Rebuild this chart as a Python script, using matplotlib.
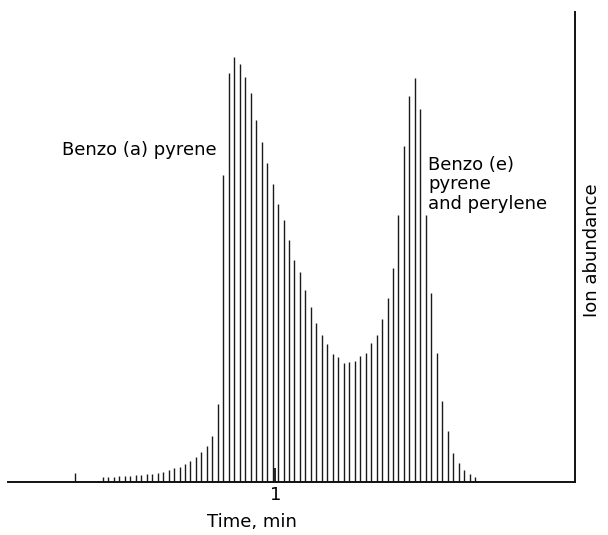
import matplotlib
matplotlib.use("Agg")
import matplotlib.pyplot as plt

# Scan times (min) and ion abundance (arbitrary units)
times = [0.27,
         0.37, 0.39, 0.41, 0.43, 0.45, 0.47, 0.49, 0.51, 0.53, 0.55,
         0.57, 0.59, 0.61, 0.63, 0.65, 0.67, 0.69, 0.71, 0.73, 0.75,
         0.77, 0.79, 0.81, 0.83, 0.85, 0.87, 0.89, 0.91, 0.93, 0.95,
         0.97, 0.99, 1.01, 1.03, 1.05, 1.07, 1.09, 1.11, 1.13, 1.15,
         1.17, 1.19, 1.21, 1.23, 1.25, 1.27, 1.29, 1.31, 1.33, 1.35,
         1.37, 1.39, 1.41, 1.43, 1.45, 1.47, 1.49, 1.51, 1.53, 1.55,
         1.57, 1.59, 1.61, 1.63, 1.65, 1.67, 1.69, 1.71, 1.73]
abundance = [9,
             5, 5, 5, 6, 6, 6, 7, 7, 8, 8,
             9, 10, 12, 14, 15, 18, 21, 25, 30, 36,
             46, 78, 307, 409, 425, 418, 405, 389, 362, 340,
             319, 298, 278, 262, 242, 222, 210, 192, 175, 159,
             147, 138, 128, 125, 119, 120, 121, 126, 129, 139,
             147, 163, 184, 214, 267, 336, 386, 404, 373, 267,
             189, 129, 81, 51, 29, 19, 12, 8, 5]

xticks = [1]
xticklabels = ["1"]

W, H = 608, 535
fig = plt.figure(figsize=(W / 100, H / 100), dpi=100)
ax_l, ax_r, ax_b, ax_t = 8, 575, 482, 12
ax = fig.add_axes([ax_l / W, (H - ax_b) / H, (ax_r - ax_l) / W, (ax_b - ax_t) / H])

ax.vlines(times, 0, abundance, colors="#1a1a1a", linewidth=1.0)

ax.set_xlim(0.0234, 2.095)
ax.set_ylim(0, 470)

for s in ["top", "left"]:
    ax.spines[s].set_visible(False)
for s in ["bottom", "right"]:
    ax.spines[s].set_linewidth(1.4)
    ax.spines[s].set_color("#111111")

font = "DejaVu Sans"
fs = 13

ax.set_yticks([])
ax.set_xticks(xticks)
ax.set_xticklabels(xticklabels, fontsize=fs, family=font)
ax.tick_params(axis="x", direction="in", length=10, width=1.2, pad=3)

fig.text(252 / W, 1 - 522 / H, "Time, min", fontsize=fs, family=font,
         ha="center", va="center")
fig.text(592 / W, 1 - 250 / H, "Ion abundance", fontsize=fs, family=font,
         ha="center", va="center", rotation=90)

ax.text(0.787, 332, "Benzo (a) pyrene", fontsize=fs, family=font,
        ha="right", va="center")
ax.text(1.558, 326, "Benzo (e)\npyrene\nand perylene", fontsize=fs, family=font,
        ha="left", va="top", linespacing=1.1)

fig.savefig("out.png", dpi=100)
